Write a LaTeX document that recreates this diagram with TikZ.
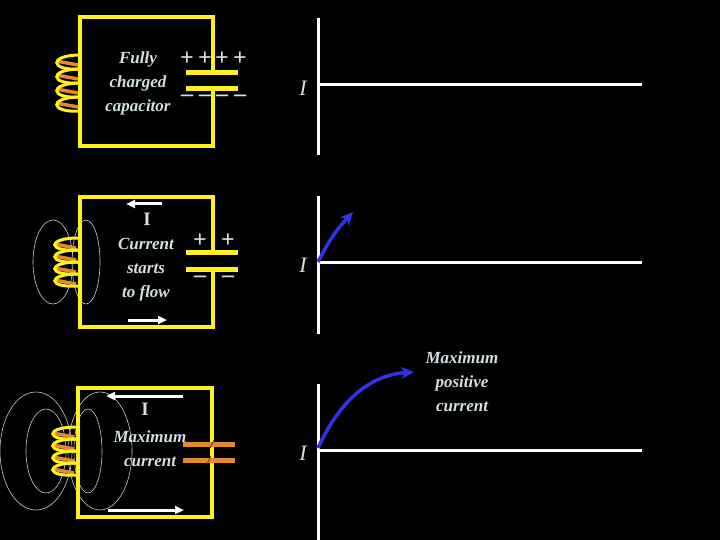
\documentclass[tikz,border=0pt]{standalone}
\usepackage{fontspec}
\setmainfont{Liberation Serif}
\usetikzlibrary{arrows.meta}
\definecolor{wy}{HTML}{FFF01E}
\definecolor{or}{HTML}{E8882A}
\definecolor{tx}{HTML}{D4E0E4}
\definecolor{bl}{HTML}{3232E6}
\newcommand{\mycoil}[3]{%
  \foreach \k in {0,1,2,3}{
    \draw[or,line width=3.5pt] (#1-26,#2+6+\k*#3) -- (#1-4,#2+10+\k*#3);
    \draw[wy,line width=3pt] (#1-2,#2+\k*#3) .. controls (#1-33,#2+\k*#3) and (#1-33,#2+#3+2+\k*#3) .. (#1-2,#2+#3+\k*#3);
  }}
\begin{document}
\begin{tikzpicture}[x=1pt,y=-1pt,
  wire/.style={wy,line width=3.5pt},
  plate/.style={line width=5pt},
  lbl/.style={tx,font=\fontsize{17}{24}\selectfont\bfseries\itshape,align=center},
  sgn/.style={tx,font=\fontsize{24}{24}\selectfont\bfseries},
  axis/.style={white,line width=3pt},
  field/.style={white!80!black,line width=0.6pt},
  carr/.style={white,line width=3pt,-{Triangle[length=9pt,width=8pt]}},
  barr/.style={bl,line width=3.5pt,-{Stealth[length=13pt,width=12pt]}}]
\fill[black] (0,0) rectangle (720,540);
\useasboundingbox (0,0) rectangle (720,540);
% ===== circuit 1
\draw[wire] (213,73) -- (213,17) -- (80,17) -- (80,146) -- (213,146) -- (213,89);
\mycoil{82}{55}{14}
\draw[wy,plate] (186,73) -- (238,73);
\draw[wy,plate] (186,89) -- (238,89);
\foreach \x [count=\i] in {187,205,222,240}{
  \node[sgn] (p1\i) at (\x,59) {+};
  \node[sgn] (m1\i) at (\x,98) {\textendash};}
\node[lbl] (t1) at (138,83) {Fully\\charged\\capacitor};
% ===== circuit 2
\draw[field] (53,262) ellipse (20 and 42);
\draw[field] (86,262) ellipse (14 and 42);
\draw[wire] (213,252) -- (213,197) -- (80,197) -- (80,327) -- (213,327) -- (213,269);
\mycoil{80}{238}{12}
\draw[wy,plate] (186,252) -- (238,252);
\draw[wy,plate] (186,269) -- (238,269);
\node[sgn] (p21) at (200,241) {+};
\node[sgn] (p22) at (228,241) {+};
\node[sgn] (m21) at (200,279) {\textendash};
\node[sgn] (m22) at (228,279) {\textendash};
\coordinate (a2s) at (162,204); \coordinate (a2e) at (126,204);
\draw[carr] (a2s) -- (a2e);
\coordinate (b2s) at (128,320); \coordinate (b2e) at (167,320);
\draw[carr] (b2s) -- (b2e);
\node[tx,font=\fontsize{19}{19}\selectfont\bfseries] (i2) at (147,219) {I};
\node[lbl] (t2) at (146,270) {Current\\starts\\to flow};
% ===== circuit 3
\draw[field] (36,451) ellipse (36 and 59);
\draw[field] (46,451) ellipse (20 and 42);
\draw[field] (100,451) ellipse (32 and 59);
\draw[field] (88,451) ellipse (14 and 42);
\draw[wire] (212,388) -- (78,388) -- (78,517) -- (212,517) -- cycle;
\mycoil{78}{427}{12}
\draw[or,plate] (183,444) -- (235,444);
\draw[or,plate] (183,460) -- (235,460);
\draw[black!60!or,line width=0.8pt] (214,440) -- (210,448) (211,456) -- (207,464);
\coordinate (a3s) at (183,396); \coordinate (a3e) at (106,396);
\draw[carr] (a3s) -- (a3e);
\coordinate (b3s) at (108,510); \coordinate (b3e) at (184,510);
\draw[carr] (b3s) -- (b3e);
\node[tx,font=\fontsize{19}{19}\selectfont\bfseries] (i3) at (145,409) {I};
\node[lbl] (t3) at (150,449) {Maximum\\current};
% ===== graphs
\foreach \t/\b/\h/\n in {18/155/85/1,196/334/262/2,384/540/450/3}{
  \coordinate (v\n t) at (318,\t); \coordinate (v\n b) at (318,\b);
  \coordinate (h\n s) at (318,\h); \coordinate (h\n e) at (642,\h);
  \draw[axis] (v\n t) -- (v\n b);
  \draw[axis] (h\n s) -- (h\n e);
  \node[tx,font=\fontsize{22}{22}\selectfont\itshape] (I\n) at (303,\h+3) {I};
}
\coordinate (g2e) at (353,212);
\draw[barr] (h2s) to[bend left=8] (g2e);
\coordinate (g3s) at (318,448);
\coordinate (g3e) at (414,372);
\draw[barr] (g3s) .. controls (340,400) and (370,375) .. (g3e);
\node[lbl] (t4) at (462,382) {Maximum\\positive\\current};
\end{tikzpicture}
\end{document}
